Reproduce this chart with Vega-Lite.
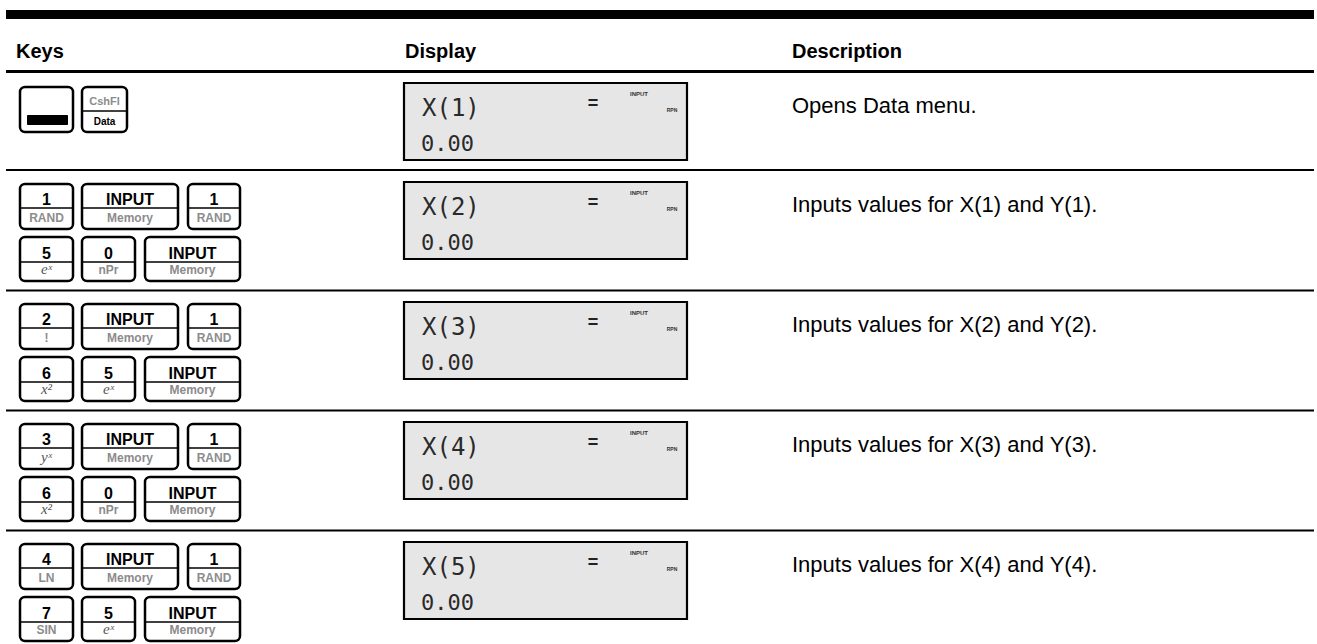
{
  "$schema": "https://vega.github.io/schema/vega-lite/v6.json",
  "width": 1317,
  "height": 644,
  "autosize": "none",
  "padding": 0,
  "background": "white",
  "config": {"view": {"stroke": null}, "axis": {"disable": true}, "legend": {"disable": true}},
  "datasets": {
    "lines": [
      {"x": 6, "x2": 1314, "y": 10, "y2": 19},
      {"x": 6, "x2": 1314, "y": 70, "y2": 73},
      {"x": 6, "x2": 1314, "y": 169, "y2": 171},
      {"x": 6, "x2": 1314, "y": 289.5, "y2": 291.5},
      {"x": 6, "x2": 1314, "y": 409.5, "y2": 411.5},
      {"x": 6, "x2": 1314, "y": 529.5, "y2": 531.5}
    ],
    "headers": [
      {"x": 16, "y": 58, "t": "Keys"},
      {"x": 405, "y": 58, "t": "Display"},
      {"x": 792, "y": 58, "t": "Description"}
    ],
    "keys": [
      {"x": 20, "x2": 73, "y": 87, "y2": 132},
      {"x": 82, "x2": 127, "xc": 104.5, "y": 87, "y2": 132, "yd": 111},

      {"x": 20, "x2": 73, "xc": 46.5, "y": 184, "y2": 229, "yd": 208, "yp": 205, "ys": 222, "p": "1", "s": "RAND", "m": 0},
      {"x": 82, "x2": 178, "xc": 130, "y": 184, "y2": 229, "yd": 208, "yp": 205, "ys": 222, "p": "INPUT", "s": "Memory", "m": 0},
      {"x": 188, "x2": 240, "xc": 214, "y": 184, "y2": 229, "yd": 208, "yp": 205, "ys": 222, "p": "1", "s": "RAND", "m": 0},
      {"x": 20, "x2": 73, "xc": 46.5, "y": 237, "y2": 281, "yd": 262, "yp": 259, "ys": 274, "p": "5", "s": "eˣ", "m": 1},
      {"x": 82, "x2": 135, "xc": 108.5, "y": 237, "y2": 281, "yd": 262, "yp": 259, "ys": 274, "p": "0", "s": "nPr", "m": 0},
      {"x": 145, "x2": 240, "xc": 192.5, "y": 237, "y2": 281, "yd": 262, "yp": 259, "ys": 274, "p": "INPUT", "s": "Memory", "m": 0},

      {"x": 20, "x2": 73, "xc": 46.5, "y": 304, "y2": 349, "yd": 328, "yp": 325, "ys": 342, "p": "2", "s": "!", "m": 0},
      {"x": 82, "x2": 178, "xc": 130, "y": 304, "y2": 349, "yd": 328, "yp": 325, "ys": 342, "p": "INPUT", "s": "Memory", "m": 0},
      {"x": 188, "x2": 240, "xc": 214, "y": 304, "y2": 349, "yd": 328, "yp": 325, "ys": 342, "p": "1", "s": "RAND", "m": 0},
      {"x": 20, "x2": 73, "xc": 46.5, "y": 357, "y2": 401, "yd": 382, "yp": 379, "ys": 394, "p": "6", "s": "x²", "m": 1},
      {"x": 82, "x2": 135, "xc": 108.5, "y": 357, "y2": 401, "yd": 382, "yp": 379, "ys": 394, "p": "5", "s": "eˣ", "m": 1},
      {"x": 145, "x2": 240, "xc": 192.5, "y": 357, "y2": 401, "yd": 382, "yp": 379, "ys": 394, "p": "INPUT", "s": "Memory", "m": 0},

      {"x": 20, "x2": 73, "xc": 46.5, "y": 424, "y2": 469, "yd": 448, "yp": 445, "ys": 462, "p": "3", "s": "yˣ", "m": 1},
      {"x": 82, "x2": 178, "xc": 130, "y": 424, "y2": 469, "yd": 448, "yp": 445, "ys": 462, "p": "INPUT", "s": "Memory", "m": 0},
      {"x": 188, "x2": 240, "xc": 214, "y": 424, "y2": 469, "yd": 448, "yp": 445, "ys": 462, "p": "1", "s": "RAND", "m": 0},
      {"x": 20, "x2": 73, "xc": 46.5, "y": 477, "y2": 521, "yd": 502, "yp": 499, "ys": 514, "p": "6", "s": "x²", "m": 1},
      {"x": 82, "x2": 135, "xc": 108.5, "y": 477, "y2": 521, "yd": 502, "yp": 499, "ys": 514, "p": "0", "s": "nPr", "m": 0},
      {"x": 145, "x2": 240, "xc": 192.5, "y": 477, "y2": 521, "yd": 502, "yp": 499, "ys": 514, "p": "INPUT", "s": "Memory", "m": 0},

      {"x": 20, "x2": 73, "xc": 46.5, "y": 544, "y2": 589, "yd": 568, "yp": 565, "ys": 582, "p": "4", "s": "LN", "m": 0},
      {"x": 82, "x2": 178, "xc": 130, "y": 544, "y2": 589, "yd": 568, "yp": 565, "ys": 582, "p": "INPUT", "s": "Memory", "m": 0},
      {"x": 188, "x2": 240, "xc": 214, "y": 544, "y2": 589, "yd": 568, "yp": 565, "ys": 582, "p": "1", "s": "RAND", "m": 0},
      {"x": 20, "x2": 73, "xc": 46.5, "y": 597, "y2": 641, "yd": 622, "yp": 619, "ys": 634, "p": "7", "s": "SIN", "m": 0},
      {"x": 82, "x2": 135, "xc": 108.5, "y": 597, "y2": 641, "yd": 622, "yp": 619, "ys": 634, "p": "5", "s": "eˣ", "m": 1},
      {"x": 145, "x2": 240, "xc": 192.5, "y": 597, "y2": 641, "yd": 622, "yp": 619, "ys": 634, "p": "INPUT", "s": "Memory", "m": 0}
    ],
    "shiftbar": [
      {"x": 27, "x2": 68, "y": 115, "y2": 125}
    ],
    "cshfl": [
      {"xc": 104.5, "ys": 105, "s": "CshFl"}
    ],
    "datakey": [
      {"xc": 104.5, "yp": 125, "p": "Data"}
    ],
    "disp": [
      {"y": 83, "y2": 160, "tb": 116, "vb": 151, "em": 104, "im": 94, "rm": 110, "db": 113, "lbl": "X(1)", "val": "0.00", "desc": "Opens Data menu."},
      {"y": 182, "y2": 259, "tb": 215, "vb": 250, "em": 203, "im": 193, "rm": 209, "db": 212, "lbl": "X(2)", "val": "0.00", "desc": "Inputs values for X(1) and Y(1)."},
      {"y": 302, "y2": 379, "tb": 335, "vb": 370, "em": 323, "im": 313, "rm": 329, "db": 332, "lbl": "X(3)", "val": "0.00", "desc": "Inputs values for X(2) and Y(2)."},
      {"y": 422, "y2": 499, "tb": 455, "vb": 490, "em": 443, "im": 433, "rm": 449, "db": 452, "lbl": "X(4)", "val": "0.00", "desc": "Inputs values for X(3) and Y(3)."},
      {"y": 542, "y2": 619, "tb": 575, "vb": 610, "em": 563, "im": 553, "rm": 569, "db": 572, "lbl": "X(5)", "val": "0.00", "desc": "Inputs values for X(4) and Y(4)."}
    ]
  },
  "layer": [
    {
      "data": {"name": "lines"},
      "mark": {"type": "rect", "fill": "#000000"},
      "encoding": {
        "x": {"field": "x", "type": "quantitative", "scale": {"domain": [0, 1317], "nice": false, "zero": false}},
        "x2": {"field": "x2"},
        "y": {"field": "y", "type": "quantitative", "scale": {"domain": [0, 644], "nice": false, "zero": false, "reverse": true}},
        "y2": {"field": "y2"}
      }
    },
    {
      "data": {"name": "headers"},
      "mark": {"type": "text", "align": "left", "baseline": "alphabetic", "font": "Liberation Sans", "fontWeight": "bold", "fontSize": 20, "fill": "#000000"},
      "encoding": {
        "x": {"field": "x", "type": "quantitative", "scale": {"domain": [0, 1317], "nice": false, "zero": false}},
        "y": {"field": "y", "type": "quantitative", "scale": {"domain": [0, 644], "nice": false, "zero": false, "reverse": true}},
        "text": {"field": "t"}
      }
    },
    {
      "data": {"name": "keys"},
      "mark": {"type": "rect", "fill": "#ffffff", "stroke": "#000000", "strokeWidth": 2.5, "cornerRadius": 5},
      "encoding": {
        "x": {"field": "x", "type": "quantitative", "scale": {"domain": [0, 1317], "nice": false, "zero": false}},
        "x2": {"field": "x2"},
        "y": {"field": "y", "type": "quantitative", "scale": {"domain": [0, 644], "nice": false, "zero": false, "reverse": true}},
        "y2": {"field": "y2"}
      }
    },
    {
      "data": {"name": "keys"},
      "transform": [{"filter": "isValid(datum.yd)"}],
      "mark": {"type": "rule", "stroke": "#000000", "strokeWidth": 1.5},
      "encoding": {
        "x": {"field": "x", "type": "quantitative", "scale": {"domain": [0, 1317], "nice": false, "zero": false}},
        "x2": {"field": "x2"},
        "y": {"field": "yd", "type": "quantitative", "scale": {"domain": [0, 644], "nice": false, "zero": false, "reverse": true}}
      }
    },
    {
      "data": {"name": "shiftbar"},
      "mark": {"type": "rect", "fill": "#000000", "cornerRadius": 1},
      "encoding": {
        "x": {"field": "x", "type": "quantitative", "scale": {"domain": [0, 1317], "nice": false, "zero": false}},
        "x2": {"field": "x2"},
        "y": {"field": "y", "type": "quantitative", "scale": {"domain": [0, 644], "nice": false, "zero": false, "reverse": true}},
        "y2": {"field": "y2"}
      }
    },
    {
      "data": {"name": "keys"},
      "transform": [{"filter": "isValid(datum.p)"}],
      "mark": {"type": "text", "align": "center", "baseline": "alphabetic", "font": "Liberation Sans", "fontWeight": "bold", "fontSize": 16, "fill": "#000000"},
      "encoding": {
        "x": {"field": "xc", "type": "quantitative", "scale": {"domain": [0, 1317], "nice": false, "zero": false}},
        "y": {"field": "yp", "type": "quantitative", "scale": {"domain": [0, 644], "nice": false, "zero": false, "reverse": true}},
        "text": {"field": "p"}
      }
    },
    {
      "data": {"name": "keys"},
      "transform": [{"filter": "isValid(datum.s) && datum.m == 0"}],
      "mark": {"type": "text", "align": "center", "baseline": "alphabetic", "font": "Liberation Sans", "fontWeight": "bold", "fontSize": 12, "fill": "#8c8c8c"},
      "encoding": {
        "x": {"field": "xc", "type": "quantitative", "scale": {"domain": [0, 1317], "nice": false, "zero": false}},
        "y": {"field": "ys", "type": "quantitative", "scale": {"domain": [0, 644], "nice": false, "zero": false, "reverse": true}},
        "text": {"field": "s"}
      }
    },
    {
      "data": {"name": "keys"},
      "transform": [{"filter": "isValid(datum.s) && datum.m == 1"}],
      "mark": {"type": "text", "align": "center", "baseline": "alphabetic", "font": "Liberation Serif", "fontStyle": "italic", "fontSize": 15, "fill": "#555555"},
      "encoding": {
        "x": {"field": "xc", "type": "quantitative", "scale": {"domain": [0, 1317], "nice": false, "zero": false}},
        "y": {"field": "ys", "type": "quantitative", "scale": {"domain": [0, 644], "nice": false, "zero": false, "reverse": true}},
        "text": {"field": "s"}
      }
    },
    {
      "data": {"name": "cshfl"},
      "mark": {"type": "text", "align": "center", "baseline": "alphabetic", "font": "Liberation Sans", "fontWeight": "bold", "fontSize": 11, "fill": "#8c8c8c"},
      "encoding": {
        "x": {"field": "xc", "type": "quantitative", "scale": {"domain": [0, 1317], "nice": false, "zero": false}},
        "y": {"field": "ys", "type": "quantitative", "scale": {"domain": [0, 644], "nice": false, "zero": false, "reverse": true}},
        "text": {"field": "s"}
      }
    },
    {
      "data": {"name": "datakey"},
      "mark": {"type": "text", "align": "center", "baseline": "alphabetic", "font": "Liberation Sans", "fontWeight": "bold", "fontSize": 10, "fill": "#000000"},
      "encoding": {
        "x": {"field": "xc", "type": "quantitative", "scale": {"domain": [0, 1317], "nice": false, "zero": false}},
        "y": {"field": "yp", "type": "quantitative", "scale": {"domain": [0, 644], "nice": false, "zero": false, "reverse": true}},
        "text": {"field": "p"}
      }
    },
    {
      "data": {"name": "disp"},
      "mark": {"type": "rect", "fill": "#e6e6e6", "stroke": "#000000", "strokeWidth": 2.2},
      "encoding": {
        "x": {"datum": 404, "type": "quantitative", "scale": {"domain": [0, 1317], "nice": false, "zero": false}},
        "x2": {"datum": 687},
        "y": {"field": "y", "type": "quantitative", "scale": {"domain": [0, 644], "nice": false, "zero": false, "reverse": true}},
        "y2": {"field": "y2"}
      }
    },
    {
      "data": {"name": "disp"},
      "mark": {"type": "text", "align": "left", "baseline": "alphabetic", "font": "DejaVu Sans Mono", "fontSize": 24, "fill": "#2a2a2a"},
      "encoding": {
        "x": {"datum": 422, "type": "quantitative", "scale": {"domain": [0, 1317], "nice": false, "zero": false}},
        "y": {"field": "tb", "type": "quantitative", "scale": {"domain": [0, 644], "nice": false, "zero": false, "reverse": true}},
        "text": {"field": "lbl"}
      }
    },
    {
      "data": {"name": "disp"},
      "mark": {"type": "text", "align": "left", "baseline": "alphabetic", "font": "DejaVu Sans Mono", "fontSize": 22, "fill": "#2a2a2a"},
      "encoding": {
        "x": {"datum": 421, "type": "quantitative", "scale": {"domain": [0, 1317], "nice": false, "zero": false}},
        "y": {"field": "vb", "type": "quantitative", "scale": {"domain": [0, 644], "nice": false, "zero": false, "reverse": true}},
        "text": {"field": "val"}
      }
    },
    {
      "data": {"name": "disp"},
      "mark": {"type": "text", "align": "center", "baseline": "middle", "font": "Liberation Sans", "fontWeight": "bold", "fontSize": 18, "fill": "#222222"},
      "encoding": {
        "x": {"datum": 593, "type": "quantitative", "scale": {"domain": [0, 1317], "nice": false, "zero": false}},
        "y": {"field": "em", "type": "quantitative", "scale": {"domain": [0, 644], "nice": false, "zero": false, "reverse": true}},
        "text": {"value": "="}
      }
    },
    {
      "data": {"name": "disp"},
      "mark": {"type": "text", "align": "center", "baseline": "middle", "font": "Liberation Sans", "fontWeight": "bold", "fontSize": 6, "fill": "#333333"},
      "encoding": {
        "x": {"datum": 639, "type": "quantitative", "scale": {"domain": [0, 1317], "nice": false, "zero": false}},
        "y": {"field": "im", "type": "quantitative", "scale": {"domain": [0, 644], "nice": false, "zero": false, "reverse": true}},
        "text": {"value": "INPUT"}
      }
    },
    {
      "data": {"name": "disp"},
      "mark": {"type": "text", "align": "center", "baseline": "middle", "font": "Liberation Sans", "fontWeight": "bold", "fontSize": 5, "fill": "#333333"},
      "encoding": {
        "x": {"datum": 672, "type": "quantitative", "scale": {"domain": [0, 1317], "nice": false, "zero": false}},
        "y": {"field": "rm", "type": "quantitative", "scale": {"domain": [0, 644], "nice": false, "zero": false, "reverse": true}},
        "text": {"value": "RPN"}
      }
    },
    {
      "data": {"name": "disp"},
      "mark": {"type": "text", "align": "left", "baseline": "alphabetic", "font": "Liberation Sans", "fontSize": 22, "fill": "#000000"},
      "encoding": {
        "x": {"datum": 792, "type": "quantitative", "scale": {"domain": [0, 1317], "nice": false, "zero": false}},
        "y": {"field": "db", "type": "quantitative", "scale": {"domain": [0, 644], "nice": false, "zero": false, "reverse": true}},
        "text": {"field": "desc"}
      }
    }
  ]
}
